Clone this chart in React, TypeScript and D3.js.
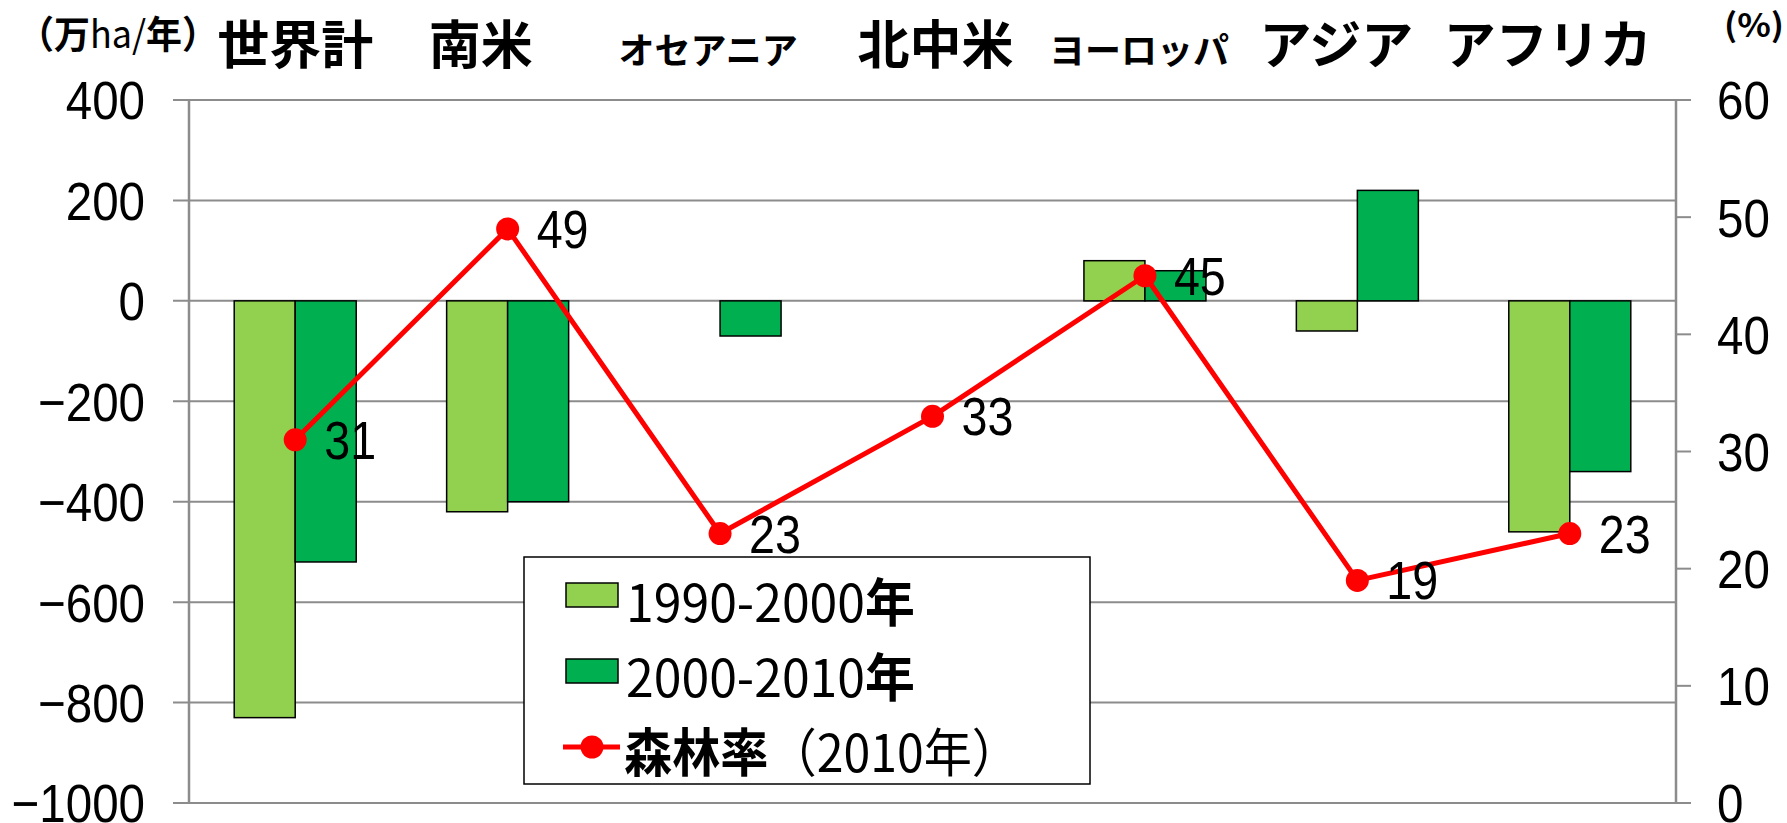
import React from "react"
import * as d3 from "d3"

// 地域別の森林面積の年平均純変化（万ha/年）と森林率（%）
const regions = ["世界計", "南米", "オセアニア", "北中米", "ヨーロッパ", "アジア", "アフリカ"]
const change1990s = [-830, -420, 0, 0, 80, -60, -460]
const change2000s = [-520, -400, -70, 0, 60, 220, -340]
const forestRate2010 = [31, 49, 23, 33, 45, 19, 23]

const leftTicks = [400, 200, 0, -200, -400, -600, -800, -1000]
const rightTicks = [0, 10, 20, 30, 40, 50, 60]
const seriesNames = ["1990-2000年", "2000-2010年"]
const lineName = "森林率"
const lineNameSuffix = "（2010年）"

// layout only
const titleShift = [0, -27, -12, 3, -6, -21, -22]
const titleSize = [52, 52, 36, 52, 36, 52, 52]

const W = 1787
const H = 823
const LIGHT = "#92D050"
const DARK = "#00B050"
const RED = "#FF0000"
const GRID = "#8c8c8c"
const NUM_FONT = "'Liberation Sans', Arial, sans-serif"
const JP_FONT = "'Noto Sans CJK JP', 'Noto Sans', sans-serif"

export default function App() {
  const plot = { left: 189, right: 1676, top: 100, bottom: 803 }

  const x = d3.scaleBand().domain(regions).range([plot.left, plot.right]).padding(0)
  const x1 = d3.scaleBand().domain(seriesNames).range([-61, 61]).padding(0)
  const y = d3.scaleLinear().domain([-1000, 400]).range([plot.bottom, plot.top])
  const yr = d3.scaleLinear().domain([0, 60]).range([plot.bottom, plot.top])

  const cx = (r: string) => (x(r) as number) + x.bandwidth() / 2

  const bars = regions.flatMap((r, i) =>
    [
      { r, s: seriesNames[0], v: change1990s[i], c: LIGHT },
      { r, s: seriesNames[1], v: change2000s[i], c: DARK },
    ].filter((d) => d.v !== 0)
  )

  const linePts = regions.map((r, i) => ({ r, v: forestRate2010[i] }))
  const line = d3
    .line<{ r: string; v: number }>()
    .x((d) => cx(d.r))
    .y((d) => yr(d.v))

  const numText = (
    key: string,
    tx: number,
    ty: number,
    txt: string,
    anchor: "start" | "end" = "start",
    size = 54
  ) => (
    <g key={key} transform={`translate(${tx},${ty}) scale(0.88,1)`}>
      <text x={0} y={size * 0.36} fontFamily={NUM_FONT} fontSize={size} textAnchor={anchor} fill="#000">
        {txt}
      </text>
    </g>
  )

  // legend
  const lg = { x: 524, y: 557, w: 566, h: 227 }

  return (
    <svg
      width={W}
      height={H}
      style={{ position: "absolute", left: 0, top: 0, background: "#fff" }}
    >
      <rect x={0} y={0} width={W} height={H} fill="#fff" />

      {/* gridlines (left axis) */}
      {leftTicks.map((t) => (
        <line
          key={"g" + t}
          x1={plot.left - 16}
          x2={t === 400 || t === -1000 ? plot.right + 15 : plot.right}
          y1={y(t)}
          y2={y(t)}
          stroke={GRID}
          strokeWidth={2}
        />
      ))}
      {/* right ticks */}
      {rightTicks.map((t) => (
        <line key={"rt" + t} x1={plot.right} x2={plot.right + 15} y1={yr(t)} y2={yr(t)} stroke={GRID} strokeWidth={2} />
      ))}
      <line x1={plot.left} x2={plot.left} y1={plot.top} y2={plot.bottom} stroke={GRID} strokeWidth={2.5} />
      <line x1={plot.right} x2={plot.right} y1={plot.top} y2={plot.bottom} stroke={GRID} strokeWidth={2.5} />

      {/* axis labels */}
      {leftTicks.map((t) =>
        numText("l" + t, 145, y(t), t < 0 ? "\u2212" + Math.abs(t) : String(t), "end")
      )}
      {rightTicks.map((t) => numText("r" + t, 1717, yr(t), String(t)))}

      {/* units */}
      <text
        x={18}
        y={48}
        fontFamily={JP_FONT}
        fontSize={38}
        fontWeight={700}
        fill="#000"
        textLength={200}
        lengthAdjust="spacingAndGlyphs"
      >
        （万<tspan fontWeight={400}>ha/</tspan>年）
      </text>
      <text
        x={1724}
        y={37}
        fontFamily={JP_FONT}
        fontSize={32}
        fontWeight={700}
        fill="#000"
        textLength={60}
        lengthAdjust="spacingAndGlyphs"
      >
        (%)
      </text>

      {/* region titles */}
      {regions.map((r, i) => (
        <text
          key={"t" + r}
          x={cx(r) + titleShift[i]}
          y={64}
          fontFamily={JP_FONT}
          fontSize={titleSize[i]}
          fontWeight={700}
          textAnchor="middle"
          fill="#000"
        >
          {r}
        </text>
      ))}

      {/* bars */}
      {bars.map((d) => (
        <rect
          key={d.r + d.s}
          x={cx(d.r) + (x1(d.s) as number)}
          y={y(Math.max(0, d.v))}
          width={x1.bandwidth()}
          height={Math.abs(y(d.v) - y(0))}
          fill={d.c}
          stroke="#000"
          strokeWidth={1.5}
        />
      ))}

      {/* forest rate line */}
      <path d={line(linePts) || ""} fill="none" stroke={RED} strokeWidth={5} strokeLinejoin="round" />
      {linePts.map((d) => (
        <circle key={"m" + d.r} cx={cx(d.r)} cy={yr(d.v)} r={11.5} fill={RED} />
      ))}
      {linePts.map((d) => numText("dl" + d.r, cx(d.r) + 29, yr(d.v), String(d.v), "start", 53))}

      {/* legend */}
      <rect x={lg.x} y={lg.y} width={lg.w} height={lg.h} fill="#fff" stroke="#000" strokeWidth={1.5} />
      {seriesNames.map((s, i) => (
        <g key={"lg" + s}>
          <rect x={566} y={583 + i * 76} width={52} height={24} fill={i === 0 ? LIGHT : DARK} stroke="#000" strokeWidth={1.5} />
          <text
            x={626}
            y={622 + i * 75}
            fontFamily={JP_FONT}
            fontSize={52}
            fill="#000"
            textLength={289}
            lengthAdjust="spacingAndGlyphs"
          >
            {s.replace("年", "")}
            <tspan fontWeight={700}>年</tspan>
          </text>
        </g>
      ))}
      <line x1={563} x2={620} y1={747} y2={747} stroke={RED} strokeWidth={5} />
      <circle cx={592} cy={747} r={11.5} fill={RED} />
      <text
        x={624}
        y={772}
        fontFamily={JP_FONT}
        fontSize={52}
        fill="#000"
        textLength={396}
        lengthAdjust="spacingAndGlyphs"
      >
        <tspan fontWeight={700}>{lineName}</tspan>
        {lineNameSuffix}
      </text>
    </svg>
  )
}
